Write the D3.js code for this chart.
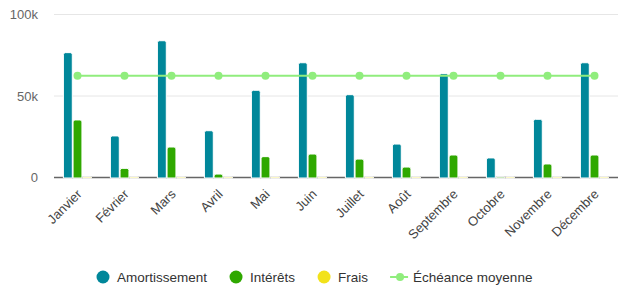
<!DOCTYPE html>
<html>
<head>
<meta charset="utf-8">
<script src="https://cdn.jsdelivr.net/npm/d3@7"></script>
<style>
  body { margin: 0; background: #fff; }
  text { font-family: "Liberation Sans", Arial, sans-serif; }
</style>
</head>
<body>
<script>
const months = ["Janvier", "Février", "Mars", "Avril", "Mai", "Juin", "Juillet", "Août", "Septembre", "Octobre", "Novembre", "Décembre"];
const amortissement = [76.3, 25.2, 83.6, 28.4, 53.2, 70.1, 50.5, 20.2, 63.4, 11.7, 35.4, 70.1];
const interets = [35, 5.3, 18.4, 1.8, 12.5, 14.1, 11, 6.1, 13.5, 0, 8, 13.5];
const frais = [0, 0, 0, 0, 0, 0, 0, 0, 0, 0, 0, 0];
const echeance = [62.1, 62.1, 62.1, 62.1, 62.1, 62.1, 62.1, 62.1, 62.1, 62.1, 62.1, 62.1];
const yTicks = [0, 50, 100];

const width = 619, height = 285;
const colors = { amort: "#00879a", int: "#2fa800", frais: "#f2e21b", ech: "#90ed7d" };

const svg = d3.select("body").append("svg")
    .attr("width", width)
    .attr("height", height);

const x = d3.scaleBand().domain(months).range([54, 618]);
const y = d3.scaleLinear().domain([0, 100]).range([177, 14]);

const barSeries = [
    { name: "Amortissement", values: amortissement, color: colors.amort },
    { name: "Intérêts", values: interets, color: colors.int },
    { name: "Frais", values: frais, color: colors.frais }
];

const inner = d3.scaleBand()
    .domain(barSeries.map(s => s.name))
    .range([x.bandwidth() * 0.2, x.bandwidth() * 0.8])
    .paddingInner(0.08);

// grid
svg.append("g")
    .selectAll("line")
    .data(yTicks.filter(t => t > 0))
    .enter().append("line")
    .attr("x1", 54).attr("x2", 618)
    .attr("y1", d => y(d) + 0.5).attr("y2", d => y(d) + 0.5)
    .attr("stroke", "#e6e6e6");

svg.append("g")
    .selectAll("text")
    .data(yTicks)
    .enter().append("text")
    .attr("x", 38)
    .attr("y", d => y(d) + 5)
    .attr("text-anchor", "end")
    .attr("font-size", 13)
    .attr("fill", "#666")
    .text(d => d === 0 ? "0" : d + "k");

// baseline
svg.append("line")
    .attr("x1", 54).attr("x2", 618)
    .attr("y1", y(0) + 0.5).attr("y2", y(0) + 0.5)
    .attr("stroke", "#666")
    .attr("stroke-width", 1.5);

function barPath(x0, w, yTop, yBase) {
    const h = yBase - yTop;
    if (h <= 0) return "";
    const r = Math.min(2, h, w / 2);
    return `M${x0},${yBase}V${yTop + r}Q${x0},${yTop} ${x0 + r},${yTop}H${x0 + w - r}Q${x0 + w},${yTop} ${x0 + w},${yTop + r}V${yBase}Z`;
}

barSeries.forEach(s => {
    svg.append("g")
        .selectAll("path")
        .data(s.values.map((v, i) => ({ m: months[i], v })))
        .enter().append("path")
        .attr("d", d => barPath(x(d.m) + inner(s.name), inner.bandwidth(), y(d.v), y(0) + 1))
        .attr("fill", s.color)
        .attr("stroke", "#fff")
        .attr("stroke-width", 1);
});

// line series
const line = d3.line()
    .x((d, i) => x(months[i]) + x.bandwidth() / 2)
    .y(d => y(d));

svg.append("path")
    .datum(echeance)
    .attr("d", line)
    .attr("fill", "none")
    .attr("stroke", colors.ech)
    .attr("stroke-width", 2);

svg.append("g")
    .selectAll("circle")
    .data(echeance)
    .enter().append("circle")
    .attr("cx", (d, i) => x(months[i]) + x.bandwidth() / 2)
    .attr("cy", d => y(d))
    .attr("r", 4)
    .attr("fill", colors.ech);

// x labels
svg.append("g")
    .selectAll("text")
    .data(months)
    .enter().append("text")
    .attr("transform", d => `translate(${x(d) + x.bandwidth() / 2 + 5},${195}) rotate(-45)`)
    .attr("text-anchor", "end")
    .attr("font-size", 13)
    .attr("fill", "#444")
    .text(d => d);

// legend
const legendItems = [
    { name: "Amortissement", color: colors.amort, type: "circle" },
    { name: "Intérêts", color: colors.int, type: "circle" },
    { name: "Frais", color: colors.frais, type: "circle" },
    { name: "Échéance moyenne", color: colors.ech, type: "line" }
];

const legend = svg.append("g");
let lx = 96;
const ly = 277;
legendItems.forEach(item => {
    const g = legend.append("g");
    if (item.type === "circle") {
        g.append("circle").attr("cx", lx + 7).attr("cy", ly).attr("r", 6.5).attr("fill", item.color);
    } else {
        g.append("line").attr("x1", lx).attr("x2", lx + 18).attr("y1", ly).attr("y2", ly)
            .attr("stroke", item.color).attr("stroke-width", 2);
        g.append("circle").attr("cx", lx + 10).attr("cy", ly).attr("r", 4).attr("fill", item.color);
    }
    const tx = lx + (item.type === "circle" ? 21 : 23);
    const t = g.append("text")
        .attr("x", tx)
        .attr("y", ly + 5)
        .attr("font-size", 13.5)
        .attr("fill", "#333")
        .text(item.name);
    lx = tx + t.node().getComputedTextLength() + 22;
});
</script>
</body>
</html>
